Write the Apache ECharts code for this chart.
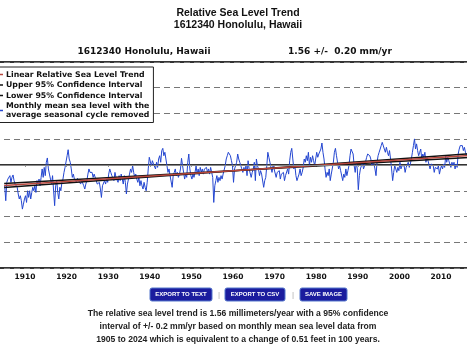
<!DOCTYPE html>
<html>
<head>
    <meta charset="utf-8">
    <script src="https://cdn.jsdelivr.net/npm/echarts@6/dist/echarts.min.js"></script>
</head>
<body style="margin: 0; background: #fff; overflow: hidden">
    <!-- the plot runs past both window edges, so the chart is a bit wider than the page -->
    <div id="container" style="position: absolute; left: -6px; top: 0; width: 479px; height: 351px"></div>
    <script type="text/javascript">
        var startYear = 1905;
        var msl = [
            -121, -208, -101, -82, -82, -62, -101, -72, -58, -91, -111, -101, -130, -169, -198, -179,
            -208, -257, -228, -198, -179, -218, -150, -189, -150, -198, -160, -130, -150, -121, -160, -91,
            -111, -82, -121, -72, -23, -72, -14, -62, 16, 41, -23, -53, -82, -111, -62, -53,
            -237, -121, -91, -160, -198, -130, -150, -101, -82, -43, -14, -23, 54, 89, 35, 16,
            -23, -72, -53, -82, -72, -101, -78, -91, -82, -111, -91, -101, -121, -140, -111, -91,
            -53, -23, -43, -33, -43, -72, -53, -62, -91, -111, -121, -101, -140, -189, -121, -111,
            -91, -111, -82, -101, -53, -23, -43, -62, -53, -91, -43, -72, -72, -101, -62, -91,
            -53, -82, -111, -62, -101, -169, -111, -82, -53, -23, -43, -4, -43, -72, -53, -82,
            -101, -72, -121, -91, -121, -140, -101, -130, -150, -101, -23, 45, 35, -4, 25, 6,
            6, -23, 16, -14, 35, 54, 16, 84, 97, 54, 74, 35, -4, -43, -23, -62,
            -72, -130, -62, -43, -23, -62, -43, -72, -53, -23, 39, -4, -43, -82, -53, -72,
            16, 64, -23, -62, -82, -53, -72, -43, -4, -53, -23, -62, -14, -43, -23, -53,
            -23, -33, -14, -43, -23, -53, -14, -43, -72, -218, -121, -91, -62, -101, -72, -91,
            -62, -82, -53, -43, -4, 35, 54, 74, 80, 54, 25, -4, -101, -23, -4, 16,
            64, 35, 16, -4, -23, -43, -14, -33, -4, -62, 25, -23, -14, -72, -43, -23,
            16, -91, 35, -4, -23, -62, -33, -53, -62, -130, -91, -72, -4, 74, 45, 16,
            16, -43, -4, -23, -23, -72, -43, -53, -33, -82, -53, -62, -43, -91, -62, -72,
            -23, -53, 25, 74, 97, 35, -23, -4, -62, -91, -72, -53, -23, -62, -43, -14,
            35, 16, 54, 25, 74, -4, 45, 16, 54, 25, -4, 35, 74, 45, 64, 54,
            93, 128, 74, 35, -23, -72, -43, -62, -23, -91, -53, -43, 16, 74, 97, 54,
            16, -23, -4, -33, -43, -91, -53, -72, -23, -62, -33, -4, 54, 93, 103, 64,
            -4, -43, 16, -23, -144, -62, -23, -4, 16, -23, -4, 6, 45, 64, 74, 54,
            35, -4, 25, 6, -23, -62, 16, 54, 74, 93, 113, 132, 136, 93, 74, 103,
            74, 54, 84, 35, -23, -91, -43, -4, -23, -43, -14, -33, 16, -23, -4, 6,
            -4, -43, -14, -23, 16, -14, 6, 35, 74, 113, 152, 93, 123, 84, 54, 74,
            93, 35, 64, 45, 74, 16, 45, 25, 25, -23, 6, -4, -4, -43, -14, -23,
            -23, -4, -53, -23, -4, -23, 6, -14, 54, 16, 45, 25, 35, -14, 16, -4,
            16, -23, 6, -14, 64, 93, 113, 103, 113, 84, 103, 74, 54, 74, 35, 45,
            100, 140, 120, 90, 60, 90, 80, 50, 90, 120, 130, 100, 80, 70, 90, 60,
            50, 70, 60, 80, 60, 90, 70, 50, 80, 110, 100, 90, 70, 60
        ];
        // linear trend and 95% confidence lines, metres
        var trendYears = [1905, 2024];
        var trend = [-0.1195, 0.0661];
        var upperCI = [-0.1315, 0.0781];
        var lowerCI = [-0.1075, 0.0541];
        var xTicks = [1910, 1920, 1930, 1940, 1950, 1960, 1970, 1980, 1990, 2000, 2010];

        var legendNames = ['Linear Relative Sea Level Trend', 'Upper 95% Confidence Interval',
            'Lower 95% Confidence Interval', 'Monthly mean sea level with the\naverage seasonal cycle removed'];

        function pairs(xs, ys) {
            return ys.map(function (v, i) { return [xs[i], v]; });
        }
        var mslData = msl.map(function (v, i) { return [startYear + (i + 0.5) / 4, v / 1000]; });

        var dx = 6; // page x -> chart x
        var chart = echarts.init(document.getElementById('container'), null, { renderer: 'canvas' });
        var boldText = { fontFamily: 'DejaVu Sans', fontWeight: 'bold', fill: '#111' };
        var titleText = { fontFamily: 'Liberation Sans', fontWeight: 'bold', fill: '#111', fontSize: 10.5, textAlign: 'center', textVerticalAlign: 'middle' };
        var capText = { fontFamily: 'Liberation Sans', fontWeight: 'bold', fill: '#222', fontSize: 8.6, textAlign: 'center' };

        function button(x, w, label) {
            return {
                type: 'group', children: [
                    { type: 'rect', shape: { x: x + dx, y: 288, width: w, height: 13, r: 2 }, style: { fill: '#1b1c9e', stroke: '#5577cc', lineWidth: 1 } },
                    { type: 'text', x: x + dx + w / 2, y: 294.5, style: { text: label, fill: '#fff', fontFamily: 'Liberation Sans', fontWeight: 'bold', fontSize: 6, textAlign: 'center', textVerticalAlign: 'middle' } }
                ]
            };
        }
        function sep(x) {
            return { type: 'text', x: x + dx, y: 294.5, style: { text: '|', fill: '#aaa', fontSize: 8, textAlign: 'center', textVerticalAlign: 'middle' } };
        }

        var option = {
            animation: false,
            legend: {
                orient: 'vertical', left: 0, top: 67,
                data: legendNames,
                icon: 'rect', itemWidth: 4, itemHeight: 1.5, itemGap: 1.5,
                padding: [3, 4, 3, 5],
                backgroundColor: '#fff', borderColor: '#222', borderWidth: 1,
                textStyle: { fontFamily: 'DejaVu Sans', fontWeight: 'bold', fontSize: 7.8, lineHeight: 9, color: '#111', padding: [0, 0, 0, -2] }
            },
            grid: { left: 0, right: 0, top: 62, bottom: 83, show: true, borderColor: '#333', borderWidth: 2 },
            xAxis: {
                type: 'value', min: 1902.55, max: 2017.69,
                axisLine: { lineStyle: { color: '#333', width: 2 } },
                axisTick: { show: true, length: 2, customValues: xTicks, lineStyle: { color: '#999' } },
                axisLabel: { customValues: xTicks, margin: 5, fontFamily: 'DejaVu Sans', fontWeight: 'bold', fontSize: 7.5, color: '#111',
                    formatter: function (v) { return String(v); } },
                splitLine: { show: false }
            },
            yAxis: {
                type: 'value', min: -0.6, max: 0.6, interval: 0.15,
                axisLine: { show: false }, axisTick: { show: false }, axisLabel: { show: false },
                splitLine: { show: true, lineStyle: { color: '#777', type: [6, 4], width: 1 } }
            },
            series: [
                {
                    name: legendNames[3], type: 'line', data: mslData, showSymbol: false,
                    lineStyle: { color: '#2446d0', width: 1 }, itemStyle: { color: '#2446d0' },
                    markLine: { silent: true, symbol: 'none', label: { show: false },
                        lineStyle: { color: '#888', type: 'solid', width: 1 }, data: [{ yAxis: 0 }] }
                },
                { name: legendNames[1], type: 'line', data: pairs(trendYears, upperCI), showSymbol: false,
                  lineStyle: { color: '#111', width: 1.5 }, itemStyle: { color: '#111' } },
                { name: legendNames[2], type: 'line', data: pairs(trendYears, lowerCI), showSymbol: false,
                  lineStyle: { color: '#111', width: 1.5 }, itemStyle: { color: '#111' } },
                { name: legendNames[0], type: 'line', data: pairs(trendYears, trend), showSymbol: false,
                  lineStyle: { color: '#b8473d', width: 1.5 }, itemStyle: { color: '#b8473d' } }
            ],
            graphic: [
                { type: 'text', x: 238 + dx, y: 13, style: Object.assign({ text: 'Relative Sea Level Trend' }, titleText) },
                { type: 'text', x: 238 + dx, y: 25, style: Object.assign({ text: '1612340 Honolulu, Hawaii' }, titleText) },
                { type: 'text', x: 144 + dx, y: 52, style: Object.assign({ text: '1612340 Honolulu, Hawaii', fontSize: 9, textAlign: 'center', textVerticalAlign: 'middle' }, boldText) },
                { type: 'text', x: 340 + dx, y: 52, style: Object.assign({ text: '1.56 +/-  0.20 mm/yr', fontSize: 9, textAlign: 'center', textVerticalAlign: 'middle' }, boldText) },
                button(150, 62, 'EXPORT TO TEXT'),
                sep(219),
                button(225, 60, 'EXPORT TO CSV'),
                sep(293),
                button(300, 47, 'SAVE IMAGE'),
                { type: 'text', x: 238 + dx, y: 307, style: Object.assign({ text: 'The relative sea level trend is 1.56 millimeters/year with a 95% confidence\ninterval of +/- 0.2 mm/yr based on monthly mean sea level data from\n1905 to 2024 which is equivalent to a change of 0.51 feet in 100 years.', lineHeight: 13 }, capText) }
            ]
        };
        chart.setOption(option);
    </script>
</body>
</html>
